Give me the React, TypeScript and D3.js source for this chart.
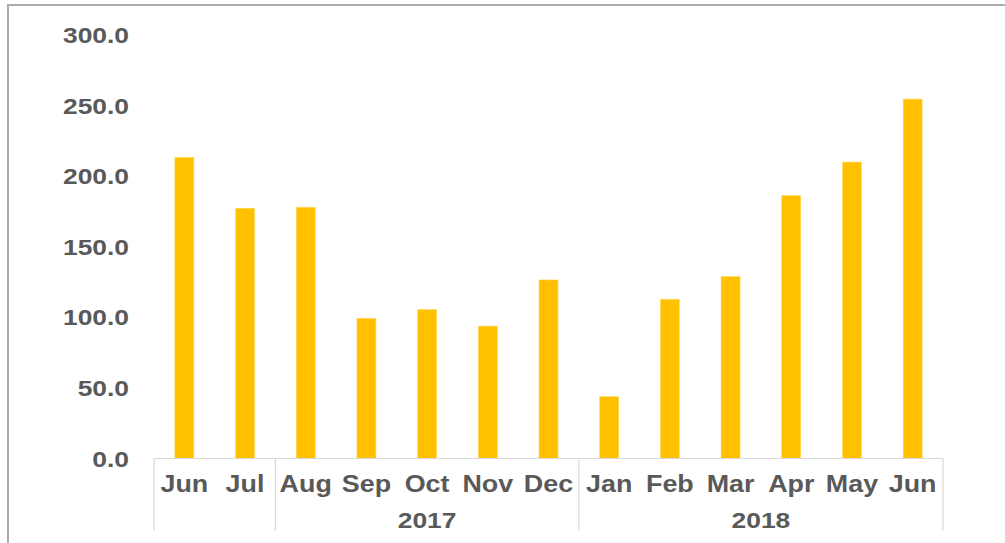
import React from "react";
import * as d3 from "d3";

const months = ["Jun", "Jul", "Aug", "Sep", "Oct", "Nov", "Dec", "Jan", "Feb", "Mar", "Apr", "May", "Jun"];
const values = [213.3, 177.3, 178.0, 99.3, 105.5, 93.8, 126.5, 43.8, 112.8, 128.9, 186.3, 210.0, 254.6];
const groupLabels = ["", "2017", "2018"];
const groupSizes = [2, 5, 6];
const yTicks = [0, 50, 100, 150, 200, 250, 300];

const App = () => {
  const width = 1005;
  const height = 543;
  const left = 154;
  const right = 943;
  const axisY = 458.5;
  const top = 35;

  const keys = months.map((m, i) => `${i}-${m}`);
  const x = d3.scaleBand<string>()
    .domain(keys)
    .range([left, right])
    .paddingInner(0.687)
    .paddingOuter(0.687 / 2);

  const y = d3.scaleLinear().domain([0, 300]).range([axisY, top]);
  const step = x.step();

  // group boundaries
  const bounds: number[] = [0];
  groupSizes.forEach((s) => bounds.push(bounds[bounds.length - 1] + s));
  const bx = (i: number) => left + step * i;

  const gray = "#595959";
  const font = "'Liberation Sans', Arial, sans-serif";

  return (
    <svg width={width} height={height} style={{ position: "absolute", left: 0, top: 0, background: "#fff" }}>
      {/* outer frame */}
      <rect x={8} y={5} width={1100} height={600} fill="none" stroke="#ababab" strokeWidth={2} />

      {/* y labels */}
      {yTicks.map((t) => (
        <g key={t} transform={`translate(129,${y(t) + 8}) scale(1.2,1)`}>
          <text textAnchor="end" fontFamily={font} fontWeight="bold" fontSize={22} fill={gray}>
            {d3.format(".1f")(t)}
          </text>
        </g>
      ))}

      {/* bars */}
      {values.map((v, i) => (
        <rect
          key={keys[i]}
          x={x(keys[i])}
          y={y(v)}
          width={x.bandwidth()}
          height={axisY - y(v)}
          fill="#FFC000"
          stroke="#FFD966"
          strokeWidth={0.6}
        />
      ))}

      {/* axis line */}
      <line x1={left} x2={right} y1={axisY} y2={axisY} stroke="#d9d9d9" strokeWidth={1.2} />

      {/* separators */}
      {bounds.map((b) => (
        <line key={b} x1={bx(b)} x2={bx(b)} y1={axisY} y2={531} stroke="#d9d9d9" strokeWidth={1.2} />
      ))}

      {/* month labels */}
      {months.map((m, i) => (
        <g key={keys[i]} transform={`translate(${x(keys[i])! + x.bandwidth() / 2},491.5) scale(1.12,1)`}>
          <text textAnchor="middle" fontFamily={font} fontWeight="bold" fontSize={24} fill={gray}>
            {m}
          </text>
        </g>
      ))}

      {/* year labels */}
      {groupLabels.map((g, i) =>
        g ? (
          <g key={g} transform={`translate(${(bx(bounds[i]) + bx(bounds[i + 1])) / 2},528) scale(1.2,1)`}>
            <text textAnchor="middle" fontFamily={font} fontWeight="bold" fontSize={22} fill={gray}>
              {g}
            </text>
          </g>
        ) : null
      )}
    </svg>
  );
};

export default App;
